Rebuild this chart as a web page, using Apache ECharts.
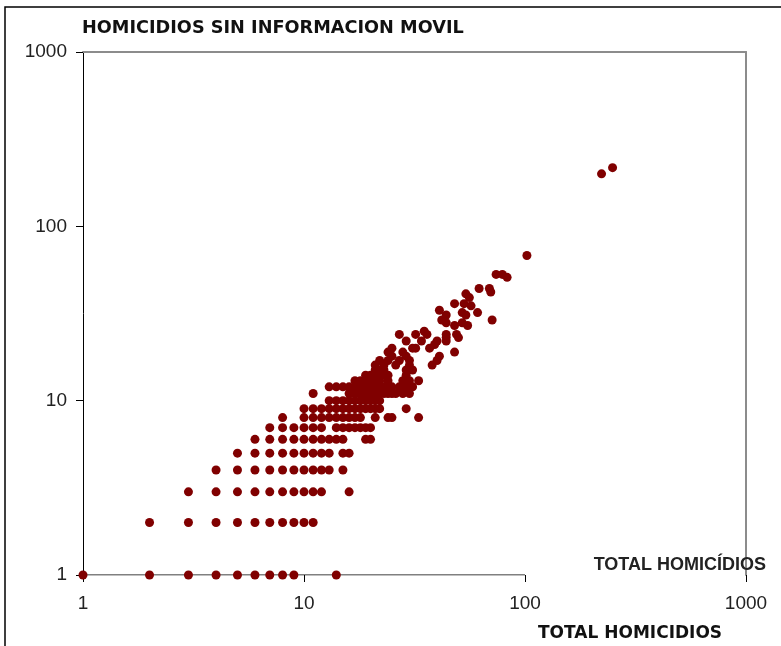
<!DOCTYPE html>
<html>
<head>
<meta charset="utf-8">
<script src="https://cdn.jsdelivr.net/npm/echarts@6/dist/echarts.min.js"></script>
<style>
html,body{margin:0;padding:0;background:#fff;}
#chart{width:781px;height:646px;}
</style>
</head>
<body>
<div id="chart"></div>
<script>
// Y values (HOMICIDIOS SIN INFORMACION MOVIL) and the TOTAL HOMICIDIOS values found at each level
const yLevels = [1,2,3,4,5,6,7,8,9,10,11,12,13,14,15,16,17,18,19,20,21,22,23,24,25,27,28,29,31,32,33,35,36,39,41,42,44,51,53,68,200,217];
const xByLevel = [
  [1,2,3,4,5,6,7,8,9,14],
  [2,3,4,5,6,7,8,9,10,11],
  [3,4,5,6,7,8,9,10,11,12,16],
  [4,5,6,7,8,9,10,11,12,13,15],
  [5,6,7,8,9,10,11,12,13,15,16],
  [6,7,8,9,10,11,12,13,14,15,19,20],
  [7,8,9,10,11,12,14,15,16,17,18,19,20],
  [8,10,11,12,13,14,15,16,17,18,21,24,25,33],
  [10,11,12,13,14,15,16,17,18,19,20,21,22,29],
  [13,14,15,16,17,18,19,20,21,22],
  [11,16,17,18,19,20,21,22,23,24,25,26,28,30],
  [13,14,15,16,17,18,19,20,21,22,23,24,25,27,29,31],
  [17,18,19,20,21,22,24,28,30,33],
  [19,20,21,22,23,24,29],
  [21,22,23,29,31],
  [21,23,26,30,38],
  [22,24,27,30,40],
  [25,29,41],
  [24,28,48],
  [25,31,32,37],
  [39],
  [29,34,40,44],
  [44,50],
  [27,32,36,44,49],
  [35],
  [48,55],
  [44,52],
  [42,71],
  [44,54],
  [52,61],
  [41],
  [57],
  [48,53],
  [56],
  [54],
  [70],
  [62,69],
  [83],
  [74,79],
  [102],
  [222],
  [249]
];
const tickLabels = ['1','10','100','1000'];
const tickValues = [1,10,100,1000];
const xAxisLineSpan = [1,100];

const points = [];
yLevels.forEach((y,i)=>{ xByLevel[i].forEach(x=>points.push([x,y])); });

function fmt(v){
  const i = tickValues.findIndex(t=>Math.abs(t-v)<1e-6*t);
  return i>=0 ? tickLabels[i] : '';
}

const chart = echarts.init(document.getElementById('chart'), null, {renderer:'canvas'});
const labelStyle = {fontFamily:'Liberation Sans', fontSize:19, color:'#222'};
chart.setOption({
  animation:false,
  backgroundColor:'#fff',
  grid:{left:83, top:52, width:663, height:523, show:false},
  xAxis:[
    {type:'log', logBase:10, min:1, max:1000, position:'bottom',
     axisLine:{show:false},
     axisTick:{show:true, length:7, lineStyle:{color:'#000', width:1}},
     axisLabel:Object.assign({margin:19, formatter:fmt}, labelStyle),
     splitLine:{show:false}, minorTick:{show:false}},
    {type:'log', logBase:10, min:1, max:1000, position:'top',
     axisLine:{show:true, lineStyle:{color:'#8c8c8c', width:2}},
     axisTick:{show:false}, axisLabel:{show:false}, splitLine:{show:false}}
  ],
  yAxis:[
    {type:'log', logBase:10, min:1, max:1000, position:'left',
     axisLine:{show:true, lineStyle:{color:'#000', width:1}},
     axisTick:{show:true, length:7, lineStyle:{color:'#000', width:1}},
     axisLabel:Object.assign({margin:16, formatter:fmt}, labelStyle),
     splitLine:{show:false}},
    {type:'log', logBase:10, min:1, max:1000, position:'right',
     axisLine:{show:true, lineStyle:{color:'#8c8c8c', width:2}},
     axisTick:{show:false}, axisLabel:{show:false}, splitLine:{show:false}}
  ],
  series:[
    {type:'line', xAxisIndex:0, yAxisIndex:0, z:1, silent:true, symbol:'none',
     data:[[xAxisLineSpan[0],1],[xAxisLineSpan[1],1]],
     lineStyle:{color:'#000', width:1}},
    {type:'scatter', xAxisIndex:0, yAxisIndex:0, z:3, symbol:'circle', symbolSize:9,
     itemStyle:{color:'#800000', opacity:1},
     data:points}
  ],
  graphic:[
    {type:'rect', silent:true, z:100, shape:{x:5, y:7, width:900, height:900},
     style:{fill:null, stroke:'#000', lineWidth:1.5}},
    {type:'text', left:82, top:19, silent:true,
     style:{text:'HOMICIDIOS SIN INFORMACION MOVIL', font:'bold 17.7px "DejaVu Sans"', fill:'#111'}},
    {type:'text', silent:true, z:50,
     style:{x:766, y:565, text:'TOTAL HOMICÍDIOS', font:'bold 18px "Liberation Sans"', fill:'#222', align:'right', verticalAlign:'middle'}},
    {type:'text', silent:true,
     style:{x:538, y:634, text:'TOTAL HOMICIDIOS', font:'bold 17px "DejaVu Sans"', fill:'#111', align:'left', verticalAlign:'middle'}}
  ]
});
</script>
</body>
</html>
